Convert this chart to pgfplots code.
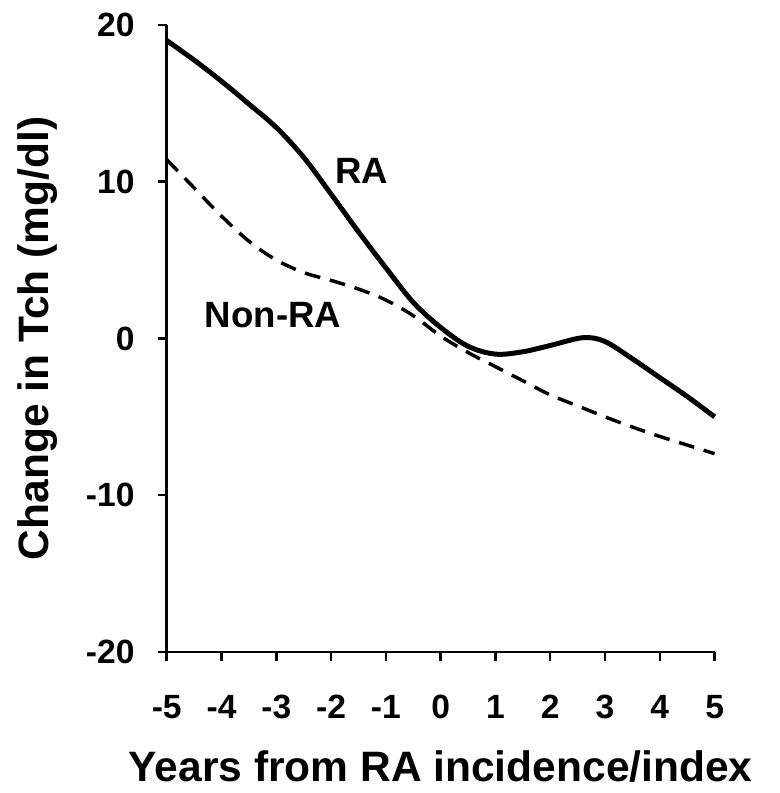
\documentclass[border=0pt]{standalone}
\usepackage{pgfplots}
\pgfplotsset{compat=1.18}
\usepackage{fontspec}
\setmainfont{Liberation Sans}
\begin{document}
\begin{tikzpicture}[x=1bp,y=1bp]
\begin{axis}[
  scale only axis,
  width=552bp, height=632bp,
  xmin=-5, xmax=5, ymin=-20, ymax=20,
  axis x line*=bottom, axis y line*=left,
  axis line style={line width=2.5bp},
  xtick={-5,...,5}, ytick={-20,-10,0,10,20},
  tick align=outside, major tick length=9bp,
  tick style={line width=2.5bp, black},
  /pgf/number format/assume math mode=true,
  tick label style={font=\fontsize{34}{34}\selectfont\bfseries},
  xticklabel style={yshift=-31bp},
  yticklabel style={xshift=-20bp},
  xlabel={Years from RA incidence/index},
  ylabel={Change in Tch (mg/dl)},
  label style={font=\fontsize{43}{43}\selectfont\bfseries},
  xlabel style={at={(axis description cs:0.5,-0.183)}, anchor=center},
  ylabel style={at={(axis description cs:-0.2364,0.5)}, anchor=center},
  clip=false,
]
\addplot[black, line width=5bp, smooth, tension=0.55] coordinates {
(-5,19.0) (-4.5,17.75) (-4,16.4) (-3.5,14.95) (-3,13.45) (-2.5,11.55) (-2,9.2) (-1.5,6.8) (-1,4.5) (-0.5,2.3) (0,0.7) (0.5,-0.5) (1,-1.0) (1.5,-0.85) (2,-0.45) (2.6,0.05) (3,-0.2) (3.5,-1.3) (4,-2.5) (4.5,-3.7) (5,-5.0)};
\addplot[black, line width=3.5bp, dash pattern=on 16bp off 10bp, smooth, tension=0.55] coordinates {
(-5,11.4) (-4.5,9.6) (-4,7.8) (-3.5,6.2) (-3,5.0) (-2.5,4.2) (-2,3.7) (-1.5,3.15) (-1,2.45) (-0.5,1.45) (0,0.15) (0.5,-0.9) (1,-1.8) (1.5,-2.7) (2,-3.6) (2.5,-4.3) (3,-5.0) (3.5,-5.65) (4,-6.25) (4.5,-6.8) (5,-7.35)};
\node[font=\fontsize{37}{37}\selectfont\bfseries] at (axis cs:-1.44,10.7) {RA};
\node[font=\fontsize{37}{37}\selectfont\bfseries] at (axis cs:-3.06,1.5) {Non-RA};
\path (rel axis cs:0,0) ++(-168bp,-142bp) (rel axis cs:1,1) ++(65bp,25bp);
\end{axis}
\end{tikzpicture}
\end{document}
